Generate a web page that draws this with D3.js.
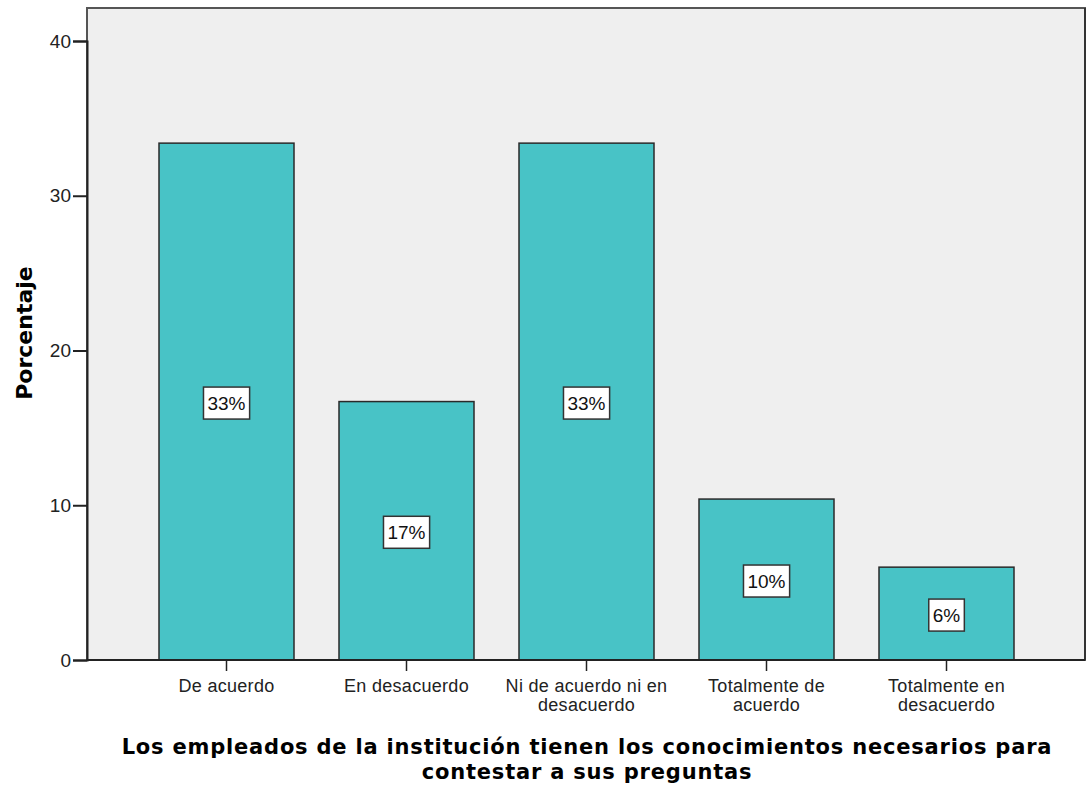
<!DOCTYPE html>
<html>
<head>
<meta charset="utf-8">
<script src="https://cdn.jsdelivr.net/npm/d3@7"></script>
<style>
  body { margin: 0; background: #fff; }
  svg { display: block; }
  .axis .tick text { font-family: "Liberation Sans", Arial, sans-serif; font-size: 18px; fill: #222; }
  .yaxis .tick text { font-size: 19px; }
</style>
</head>
<body>
<script>
(function(){

    //chart data
    var categories = ["De acuerdo", "En desacuerdo", "Ni de acuerdo ni en desacuerdo", "Totalmente de acuerdo", "Totalmente en desacuerdo"];
    var catLines = [["De acuerdo"], ["En desacuerdo"], ["Ni de acuerdo ni en", "desacuerdo"], ["Totalmente de", "acuerdo"], ["Totalmente en", "desacuerdo"]];
    var values = [33.4, 16.7, 33.4, 10.4, 6.0];
    var pctLabels = ["33%", "17%", "33%", "10%", "6%"];
    var yTicks = [0, 10, 20, 30, 40];

    window.onload = setChart();

    function setChart(){
        var width = 1087,
            height = 787,
            left = 87,
            right = 1085,
            top = 8,
            bottom = 660;

        var svg = d3.select("body")
            .append("svg")
            .attr("width", width)
            .attr("height", height);

        //plot background
        svg.append("rect")
            .attr("x", left)
            .attr("y", top)
            .attr("width", right - left)
            .attr("height", bottom - top)
            .style("fill", "#efefef")
            .style("stroke", "#555")
            .style("stroke-width", 2);

        //darker right edge of the frame
        svg.append("line")
            .attr("x1", right)
            .attr("x2", right)
            .attr("y1", top)
            .attr("y2", bottom)
            .style("stroke", "#333")
            .style("stroke-width", 2);

        var yScale = d3.scaleLinear()
            .domain([0, 40])
            .range([bottom, 41]);

        var xScale = d3.scaleBand()
            .domain(categories)
            .range([91.5, 1081.5])
            .paddingInner(0.25)
            .paddingOuter(0.375);

        //bars
        svg.selectAll(".bar")
            .data(values)
            .enter()
            .append("rect")
            .attr("class", "bar")
            .attr("x", function(d, i){ return xScale(categories[i]); })
            .attr("width", xScale.bandwidth())
            .attr("y", function(d){ return yScale(d); })
            .attr("height", function(d){ return bottom - yScale(d); })
            .style("fill", "#48c3c6")
            .style("stroke", "#2a2a2a")
            .style("stroke-width", 1.5);

        //percentage labels
        var labels = svg.selectAll(".lbl")
            .data(values)
            .enter()
            .append("g")
            .attr("class", "lbl")
            .attr("transform", function(d, i){
                return "translate(" + (xScale(categories[i]) + xScale.bandwidth() / 2) + "," + (yScale(d / 2) + 1.5) + ")";
            });

        labels.append("text")
            .attr("text-anchor", "middle")
            .attr("dy", "0.36em")
            .style("font-family", "Liberation Sans, Arial, sans-serif")
            .style("font-size", "19px")
            .style("fill", "#111")
            .text(function(d, i){ return pctLabels[i]; });

        labels.each(function(){
            var g = d3.select(this);
            var bb = g.select("text").node().getBBox();
            g.insert("rect", "text")
                .attr("x", bb.x - 4)
                .attr("y", -16)
                .attr("width", bb.width + 8)
                .attr("height", 32)
                .style("fill", "#fff")
                .style("stroke", "#333")
                .style("stroke-width", 1.5);
        });

        //y axis
        var yAxis = svg.append("g")
            .attr("class", "axis yaxis")
            .attr("transform", "translate(" + left + ",0)")
            .call(d3.axisLeft(yScale).tickValues(yTicks).tickSize(14).tickPadding(2).tickFormat(d3.format("d")));
        yAxis.select(".domain").style("stroke", "#222").style("stroke-width", 2);
        yAxis.selectAll(".tick line").style("stroke", "#222").style("stroke-width", 2);

        //x axis
        var xAxis = svg.append("g")
            .attr("class", "axis")
            .attr("transform", "translate(0," + bottom + ")")
            .call(d3.axisBottom(xScale).tickSize(11).tickFormat(""));
        xAxis.select(".domain").remove();
        xAxis.selectAll(".tick line").style("stroke", "#222").style("stroke-width", 1.5);
        svg.append("line")
            .attr("x1", left)
            .attr("x2", right)
            .attr("y1", bottom)
            .attr("y2", bottom)
            .style("stroke", "#222")
            .style("stroke-width", 2);

        //multi-line category labels
        xAxis.selectAll(".tick").each(function(d, i){
            var t = d3.select(this).append("text")
                .attr("text-anchor", "middle")
                .style("fill", "#222")
                .style("letter-spacing", "0.3px");
            catLines[i].forEach(function(line, j){
                t.append("tspan")
                    .attr("x", 0)
                    .attr("y", 32 + j * 19)
                    .text(line);
            });
        });

        //axis titles
        svg.append("text")
            .attr("transform", "translate(32,333) rotate(-90)")
            .attr("text-anchor", "middle")
            .style("font-family", "DejaVu Sans, sans-serif")
            .style("font-weight", "bold")
            .style("font-size", "22px")
            .text("Porcentaje");

        var title = svg.append("text")
            .attr("text-anchor", "middle")
            .style("font-family", "DejaVu Sans, sans-serif")
            .style("font-weight", "bold")
            .style("font-size", "21px")
            .style("letter-spacing", "0.8px");
        title.append("tspan").attr("x", 587).attr("y", 754).text("Los empleados de la institución tienen los conocimientos necesarios para");
        title.append("tspan").attr("x", 587).attr("y", 779).text("contestar a sus preguntas");
    };

})();
</script>
</body>
</html>
